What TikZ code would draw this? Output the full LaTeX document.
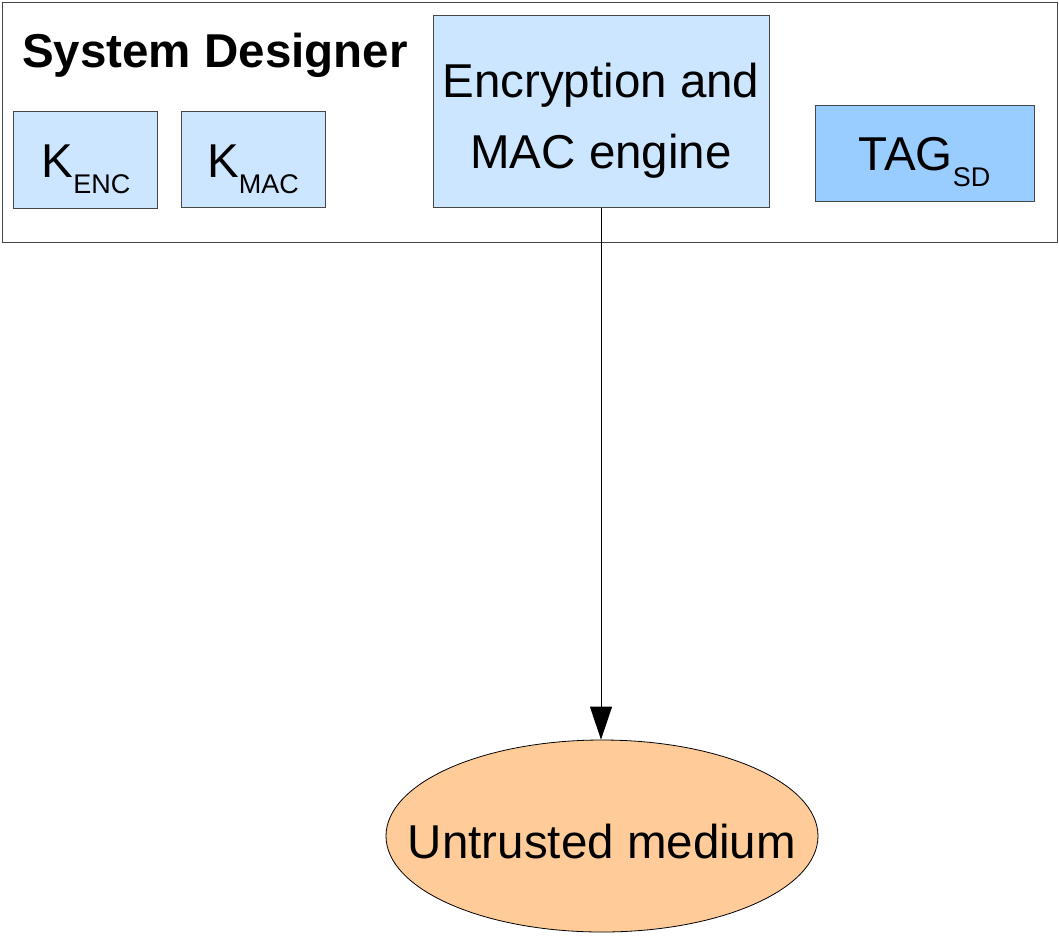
\documentclass[tikz,border=0pt]{standalone}
\usepackage{fontspec}
\setmainfont{Liberation Sans}
\usetikzlibrary{arrows.meta,shapes.geometric}
\definecolor{boxblue}{RGB}{204,230,255}
\definecolor{tagblue}{RGB}{153,204,255}
\definecolor{mediumorange}{RGB}{255,204,153}
\definecolor{edgegray}{RGB}{70,70,70}
\newcommand{\bigtxt}{\fontsize{47.5}{71}\selectfont}
\newcommand{\subtxt}[1]{{\fontsize{27}{27}\selectfont\raisebox{-16pt}{#1}}}
\begin{document}
\begin{tikzpicture}[x=1pt,y=-1pt,
  panel/.style={draw=edgegray, line width=1pt, inner sep=0pt},
  keybox/.style={panel, fill=boxblue, font=\bigtxt},
  lbl/.style={inner sep=0pt, font=\bigtxt}]
  \useasboundingbox (0,0) rectangle (1059,937);
  % system designer frame
  \node[panel, minimum width=1055pt, minimum height=240pt] (sd) at (529.5,122) {};
  \node[lbl, anchor=base west, font=\bigtxt\bfseries] (title) at (22,67) {System Designer};
  % keys and tag
  \node[keybox, minimum width=144pt, minimum height=97pt] (kenc) at (85,159.5) {};
  \node[lbl, anchor=base] (kenct) at (86,177) {K\subtxt{ENC}};
  \node[keybox, minimum width=144pt, minimum height=96pt] (kmac) at (253,159) {};
  \node[lbl, anchor=base] (kmact) at (253,177) {K\subtxt{MAC}};
  \node[keybox, fill=tagblue, minimum width=219pt, minimum height=96pt] (tag) at (924.5,153) {};
  \node[lbl, anchor=base] (tagt) at (924.5,170) {TAG\subtxt{SD}};
  % engine
  \node[keybox, minimum width=336pt, minimum height=192pt] (enc) at (601,111) {};
  \node[lbl, anchor=base] (enct1) at (601,97) {Encryption and};
  \node[lbl, anchor=base] (enct2) at (601,168) {MAC engine};
  % untrusted medium
  \node[draw=black, line width=0.8pt, fill=mediumorange, ellipse, inner sep=0pt,
        minimum width=432pt, minimum height=192pt] (um) at (602,836) {};
  \node[lbl, anchor=base] (umt) at (602,858) {Untrusted medium};
  % data flow
  \draw[line width=1pt, -{Triangle[length=33pt,width=22pt]}] (enc.south) -- (enc.south |- um.north);
\end{tikzpicture}
\end{document}
